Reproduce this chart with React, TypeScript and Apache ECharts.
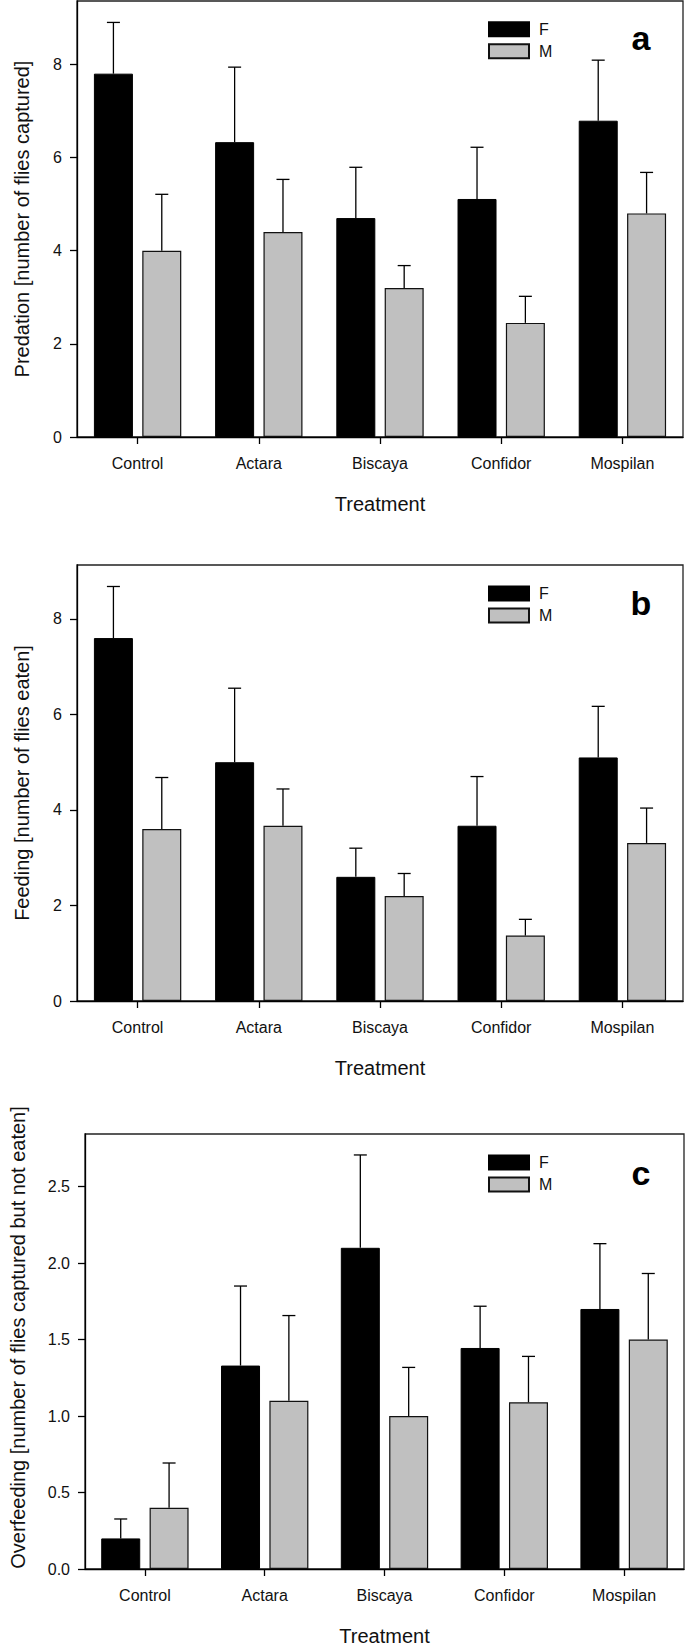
import React, { useEffect, useRef } from "react";
import * as echarts from "echarts";

// ---- data ----
const categories = ["Control", "Actara", "Biscaya", "Confidor", "Mospilan"];
const sexNames = ["F", "M"];

const predationF = [7.8, 6.33, 4.7, 5.11, 6.79];
const predationFse = [1.1, 1.61, 1.09, 1.11, 1.3];
const predationM = [4.0, 4.4, 3.2, 2.45, 4.8];
const predationMse = [1.21, 1.13, 0.48, 0.57, 0.88];

const feedingF = [7.6, 5.0, 2.6, 3.67, 5.1];
const feedingFse = [1.08, 1.55, 0.6, 1.03, 1.07];
const feedingM = [3.6, 3.67, 2.2, 1.37, 3.31];
const feedingMse = [1.08, 0.77, 0.47, 0.34, 0.73];

const overfeedingF = [0.2, 1.33, 2.1, 1.445, 1.7];
const overfeedingFse = [0.127, 0.52, 0.607, 0.273, 0.427];
const overfeedingM = [0.4, 1.1, 1.0, 1.09, 1.5];
const overfeedingMse = [0.293, 0.557, 0.318, 0.3, 0.432];

const ticksCount = [0, 2, 4, 6, 8];
const ticksOver = [0, 0.5, 1.0, 1.5, 2.0, 2.5];

const yTitles = [
  "Predation [number of flies captured]",
  "Feeding [number of flies eaten]",
  "Overfeeding [number of flies captured but not eaten]",
];
const xTitle = "Treatment";
const panelLetters = ["a", "b", "c"];

// ---- layout / style constants ----
const FONT = "'Liberation Sans', Arial, Helvetica, sans-serif";
const BAR_W = 39;
const BAR_GAP = 0.24;
const OFFSET = (BAR_W * 2 + BAR_W * BAR_GAP) / 2 - BAR_W / 2;
const CAP = 13;

const panels = [
  { top: 1, left: 77, max: 9.36, ticks: ticksCount, dec: 0, nameGap: 45, namePad: 0, legendTop: 16.3, letterY: 38,
    f: predationF, fse: predationFse, m: predationM, mse: predationMse },
  { top: 565, left: 77, max: 9.13, ticks: ticksCount, dec: 0, nameGap: 45, namePad: 0, legendTop: 580.5, letterY: 603,
    f: feedingF, fse: feedingFse, m: feedingM, mse: feedingMse },
  { top: 1134, left: 78, max: 2.844, ticks: ticksOver, dec: 1, nameGap: 57, namePad: 28, legendTop: 1149.5, letterY: 1173,
    f: overfeedingF, fse: overfeedingFse, m: overfeedingM, mse: overfeedingMse },
];

function errSeries(gi: number, mean: number[], se: number[], sign: number) {
  return {
    type: "custom",
    name: "err" + gi + "_" + sign,
    xAxisIndex: gi,
    yAxisIndex: gi,
    z: 5,
    data: mean.map((v, i) => [i, v, se[i]]),
    encode: { x: 0, y: 1 },
    renderItem: (_p: any, api: any) => {
      const i = api.value(0);
      const v = api.value(1);
      const s = api.value(2);
      const b = api.coord([i, v]);
      const t = api.coord([i, v + s]);
      const x = b[0] + sign * OFFSET;
      const st = { stroke: "#000", lineWidth: 1.3 };
      return {
        type: "group",
        children: [
          { type: "line", shape: { x1: x, y1: b[1], x2: x, y2: t[1] }, style: st },
          { type: "line", shape: { x1: x - CAP / 2, y1: t[1], x2: x + CAP / 2, y2: t[1] }, style: st },
        ],
      };
    },
  };
}

export default function App() {
  const ref = useRef<HTMLDivElement>(null);
  useEffect(() => {
    document.body.style.margin = "0";
    if (!ref.current) return;
    const chart = echarts.init(ref.current, null, { renderer: "svg" });

    const grid = panels.map((p) => ({
      left: p.left, top: p.top, width: 606, height: 436,
      show: true, borderColor: "#222", borderWidth: 1.3, backgroundColor: "transparent",
    }));

    const xAxis = panels.map((_p, gi) => ({
      type: "category", gridIndex: gi, data: categories,
      axisLine: { show: true, lineStyle: { color: "#000", width: 1.3 } },
      axisTick: { show: true, alignWithLabel: true, length: 7, lineStyle: { color: "#000", width: 1.3 } },
      axisLabel: { color: "#111", fontSize: 16, fontFamily: FONT, margin: 18, interval: 0 },
      name: xTitle, nameLocation: "middle", nameGap: 57,
      nameTextStyle: { color: "#111", fontSize: 20, fontFamily: FONT },
    }));

    const yAxis = panels.map((p, gi) => ({
      type: "value", gridIndex: gi, min: 0, max: p.max,
      axisLine: { show: true, lineStyle: { color: "#000", width: 1.3 } },
      axisTick: { show: true, length: 7, customValues: p.ticks, lineStyle: { color: "#000", width: 1.3 } },
      axisLabel: {
        color: "#111", fontSize: 16, fontFamily: FONT, margin: 15, customValues: p.ticks,
        formatter: (v: number) => v.toFixed(p.dec),
      },
      splitLine: { show: false },
      name: yTitles[gi], nameLocation: "middle", nameGap: p.nameGap,
      nameTextStyle: { color: "#111", fontSize: 20, fontFamily: FONT, padding: [0, 0, 0, p.namePad] },
    }));

    const series: any[] = [];
    panels.forEach((p, gi) => {
      series.push({
        type: "bar", name: sexNames[0], xAxisIndex: gi, yAxisIndex: gi, data: p.f,
        barWidth: BAR_W, barGap: BAR_GAP * 100 + "%",
        itemStyle: { color: "#000", borderColor: "#000", borderWidth: 1 },
      });
      series.push({
        type: "bar", name: sexNames[1], xAxisIndex: gi, yAxisIndex: gi, data: p.m,
        barWidth: BAR_W, barGap: BAR_GAP * 100 + "%",
        itemStyle: { color: "#c0c0c0", borderColor: "#111", borderWidth: 1.2 },
      });
      series.push(errSeries(gi, p.f, p.fse, -1));
      series.push(errSeries(gi, p.m, p.mse, 1));
    });

    const legend = panels.map((p) => ({
      data: sexNames, orient: "vertical", left: 483, top: p.legendTop,
      itemWidth: 40, itemHeight: 14, itemGap: 6, icon: "rect", selectedMode: false,
      textStyle: { color: "#111", fontSize: 16, fontFamily: FONT, padding: [0, 0, 0, 5] },
    }));

    const graphic = panels.map((p, gi) => ({
      type: "text", x: 641, y: p.letterY, z: 10,
      style: {
        text: panelLetters[gi], fill: "#000", fontSize: 34, fontWeight: "bold", fontFamily: FONT,
        textAlign: "center", textVerticalAlign: "middle",
      },
    }));

    chart.setOption({
      animation: false,
      backgroundColor: "#fff",
      grid, xAxis, yAxis, series, legend, graphic,
    });
    return () => chart.dispose();
  }, []);
  return <div ref={ref} style={{ width: 685, height: 1647 }} />;
}
